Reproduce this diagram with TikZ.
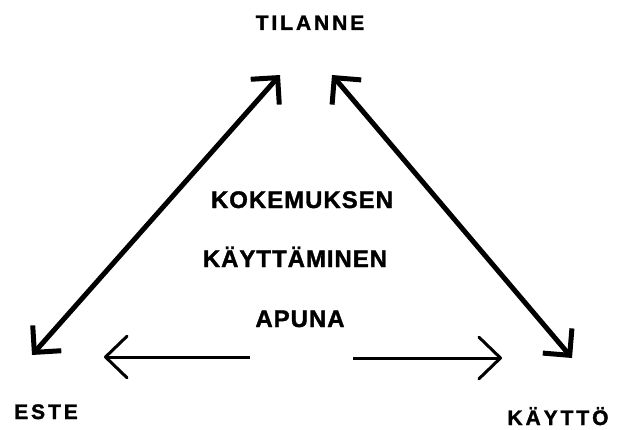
\documentclass[tikz,border=0pt]{standalone}
\usepackage{fontspec}
\setmainfont{Liberation Sans}[BoldFeatures={FakeBold=1.5}]
\usetikzlibrary{arrows.meta}
\tikzset{
  cornerword/.style = {font=\fontsize{21}{25}\selectfont\bfseries\addfontfeature{LetterSpace=14}, anchor=base, inner sep=0pt},
  midword/.style    = {font=\fontsize{24}{28}\selectfont\bfseries\addfontfeature{LetterSpace=4}, anchor=base, inner sep=0pt},
  diag/.style       = {line width=5pt, {Straight Barb[angle=90:27pt, line width=5pt, sharp]}-{Straight Barb[angle=90:27pt, line width=5pt, sharp]}},
  horiz/.style      = {line width=3pt, -{Straight Barb[angle=88:30pt, line width=3pt, round]}},
}
\begin{document}
\begin{tikzpicture}[x=1pt, y=-1pt]
    \useasboundingbox (0,0) rectangle (617,430);

    % corner words
    \node[cornerword] (tilanne) at (310, 30)  {TILANNE};
    \node[cornerword] (este)    at (46, 419)  {ESTE};
    \node[cornerword] (kaytto)  at (558, 425) {KÄYTTÖ};

    % middle text
    \node[midword] (kokemuksen)  at (302, 208) {KOKEMUKSEN};
    \node[midword] (kayttaminen) at (295, 267) {KÄYTTÄMINEN};
    \node[midword] (apuna)       at (300, 327) {APUNA};

    % arrow ends
    \coordinate (lefttop)  at (280, 75);
    \coordinate (leftbot)  at (32, 355);
    \coordinate (righttop) at (332, 75);
    \coordinate (rightbot) at (572, 358);
    \coordinate (hleftin)  at (250, 357);
    \coordinate (hleftout) at (104, 357);
    \coordinate (hrightin) at (353, 358);
    \coordinate (hrightout) at (502, 358);

    % arrows
    \draw[diag] (leftbot) -- (lefttop);
    \draw[diag] (righttop) -- (rightbot);
    \draw[horiz] (hleftin) -- (hleftout);
    \draw[horiz] (hrightin) -- (hrightout);
\end{tikzpicture}
\end{document}
